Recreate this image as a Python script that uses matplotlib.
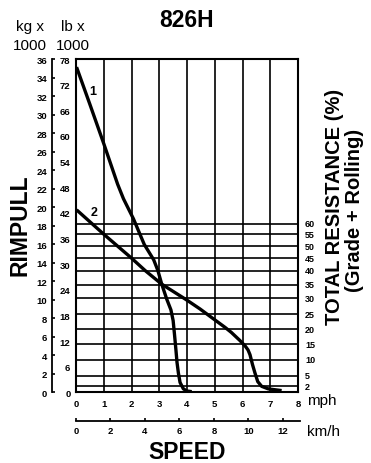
import matplotlib
matplotlib.use("Agg")
import matplotlib.pyplot as plt
from matplotlib import font_manager as fm

# ---------------- data ----------------
mph_ticks = [0, 1, 2, 3, 4, 5, 6, 7, 8]
kmh_ticks = [0, 2, 4, 6, 8, 10, 12]
lb_ticks = [0, 6, 12, 18, 24, 30, 36, 42, 48, 54, 60, 66, 72, 78]
kg_ticks = list(range(0, 37, 2))

resistance_pct = [2, 5, 10, 15, 20, 25, 30, 35, 40, 45, 50, 55, 60]
resistance_lb = [1.4, 3.9, 7.6, 11.3, 14.8, 18.3, 22.0, 25.2, 28.5, 31.4, 34.2, 37.0, 39.4]

curve1_mph = [0.02, 0.5, 1.0, 1.5, 1.71, 2.07, 2.46, 2.8, 2.95, 3.09, 3.27, 3.42,
              3.5, 3.55, 3.6, 3.64, 3.69, 3.75, 3.87, 4.0, 4.17]
curve1_lb = [76.1, 67.4, 58.2, 48.7, 45.3, 40.6, 34.6, 31.0, 28.5, 25.3, 21.8, 19.3,
             16.8, 13.5, 10.0, 7.0, 4.5, 2.3, 0.8, 0.3, 0.15]

curve2_mph = [0.02, 1.0, 2.0, 2.49, 3.09, 3.99, 4.47, 4.95, 5.37, 5.6, 5.91, 6.1,
              6.2, 6.27, 6.36, 6.45, 6.55, 6.69, 6.93, 7.41]
curve2_lb = [42.7, 37.0, 31.4, 28.5, 25.3, 21.6, 19.5, 17.2, 15.2, 14.0, 12.1, 10.8,
             9.9, 8.8, 6.5, 4.5, 2.5, 1.4, 0.8, 0.4]

curve_labels = ["1", "2"]
curve_label_pos = [(0.62, 70.4), (0.64, 42.2)]

title = "826H"
xlabel = "SPEED"
ylabel = "RIMPULL"
rlabel1 = "TOTAL RESISTANCE (%)"
rlabel2 = "(Grade + Rolling)"

# ---------------- fonts ----------------
avail = {f.name for f in fm.fontManager.ttflist}
SANS = "Liberation Sans" if "Liberation Sans" in avail else "DejaVu Sans"
if "Liberation Sans Narrow" in avail:
    NARROW, TICK_FS, RES_FS, SMALL_FS = "Liberation Sans Narrow", 7.5, 7, 12
else:
    NARROW, TICK_FS, RES_FS, SMALL_FS = SANS, 6.8, 6.5, 11

W, H = 371, 464
fig = plt.figure(figsize=(W / 100, H / 100), dpi=100)


def fx(x):
    return x / W


def fy(y):
    return 1 - y / H


L, R, T, B = 76, 298, 60, 393.3
ax = fig.add_axes([fx(L), fy(B), (R - L) / W, (B - T) / H])
ax.set_xlim(0, 8)
ax.set_ylim(0, 78)

for m in mph_ticks[1:-1]:
    ax.axvline(m, color="black", lw=1.2, zorder=1)
ax.hlines(resistance_lb, 0, 8, color="black", lw=1.2, zorder=1)

ax.plot(curve1_mph, curve1_lb, color="black", lw=2.4, solid_joinstyle="round",
        solid_capstyle="butt", zorder=3)
ax.plot(curve2_mph, curve2_lb, color="black", lw=2.4, solid_joinstyle="round",
        solid_capstyle="butt", zorder=3)
for lab, (x, y) in zip(curve_labels, curve_label_pos):
    ax.text(x, y, lab, ha="center", va="center", fontsize=9, fontweight="bold",
            family=SANS)

for s in ax.spines.values():
    s.set_linewidth(1.5)

ax.set_yticks(lb_ticks)
ax.set_yticklabels([str(v) for v in lb_ticks])
ax.set_xticks(mph_ticks)
ax.set_xticklabels([str(v) for v in mph_ticks])
ax.tick_params(axis="y", length=0, pad=4.0)
ax.tick_params(axis="x", length=0, pad=4.6)
for lab in ax.get_xticklabels() + ax.get_yticklabels():
    lab.set_family(NARROW)
    lab.set_fontweight("bold")
    lab.set_fontsize(TICK_FS)

for p, v in zip(resistance_pct, resistance_lb):
    ax.annotate(str(p), xy=(1, v), xycoords=("axes fraction", "data"),
                xytext=(5, 0), textcoords="offset points", ha="left", va="center",
                fontsize=RES_FS, fontweight="bold", family=NARROW, annotation_clip=False)

# kg axis
axk = fig.add_axes([fx(52), fy(B), 0.001, (B - T) / H])
axk.set_ylim(0, 36)
axk.patch.set_visible(False)
for k in ["top", "right", "bottom"]:
    axk.spines[k].set_visible(False)
axk.spines["left"].set_linewidth(1.3)
axk.set_xticks([])
axk.set_yticks(kg_ticks)
axk.set_yticklabels([str(v) for v in kg_ticks])
axk.tick_params(axis="y", direction="in", length=2.2, width=1.2, pad=3.4)
for lab in axk.get_yticklabels():
    lab.set_family(NARROW)
    lab.set_fontweight("bold")
    lab.set_fontsize(TICK_FS)

# km/h axis
kmh_max = 13
kmh_per_mph = 1.609344
w_kmh = kmh_max / (8 * kmh_per_mph) * (R - L)
axh = fig.add_axes([fx(L), fy(421.8), w_kmh / W, 0.001])
axh.set_xlim(0, kmh_max)
axh.patch.set_visible(False)
for k in ["top", "right", "left"]:
    axh.spines[k].set_visible(False)
axh.spines["bottom"].set_linewidth(1.3)
axh.set_yticks([])
axh.set_xticks(kmh_ticks)
axh.set_xticklabels([str(v) for v in kmh_ticks])
axh.tick_params(axis="x", direction="in", length=2.2, width=1.2, pad=3.4)
for lab in axh.get_xticklabels():
    lab.set_family(NARROW)
    lab.set_fontweight("bold")
    lab.set_fontsize(TICK_FS)

# texts
fig.text(fx(187), fy(26.7), title, ha="center", va="baseline", fontsize=16.5,
         fontweight="bold", family=SANS)
fig.text(fx(187), fy(459.5), xlabel, ha="center", va="baseline", fontsize=16.5,
         fontweight="bold", family=SANS)
fig.text(fx(26.7), fy(225), ylabel, ha="center", va="baseline", rotation=90,
         rotation_mode="anchor", fontsize=16.5, fontweight="bold", family=SANS)
fig.text(fx(339.5), fy(207), rlabel1, ha="center", va="baseline", rotation=90,
         rotation_mode="anchor", fontsize=14.5, fontweight="bold", family=SANS)
fig.text(fx(359.5), fy(210), rlabel2, ha="center", va="baseline", rotation=90,
         rotation_mode="anchor", fontsize=14.5, fontweight="bold", family=SANS)

fig.text(fx(307), fy(405), "mph", ha="left", va="baseline", fontsize=SMALL_FS, family=NARROW)
fig.text(fx(307), fy(436), "km/h", ha="left", va="baseline", fontsize=SMALL_FS, family=NARROW)
fig.text(fx(30), fy(31), "kg x", ha="center", va="baseline", fontsize=SMALL_FS, family=NARROW)
fig.text(fx(30), fy(50), "1000", ha="center", va="baseline", fontsize=SMALL_FS, family=NARROW)
fig.text(fx(72.5), fy(31), "lb x", ha="center", va="baseline", fontsize=SMALL_FS, family=NARROW)
fig.text(fx(73), fy(50), "1000", ha="center", va="baseline", fontsize=SMALL_FS, family=NARROW)

fig.savefig("out.png", dpi=100)
